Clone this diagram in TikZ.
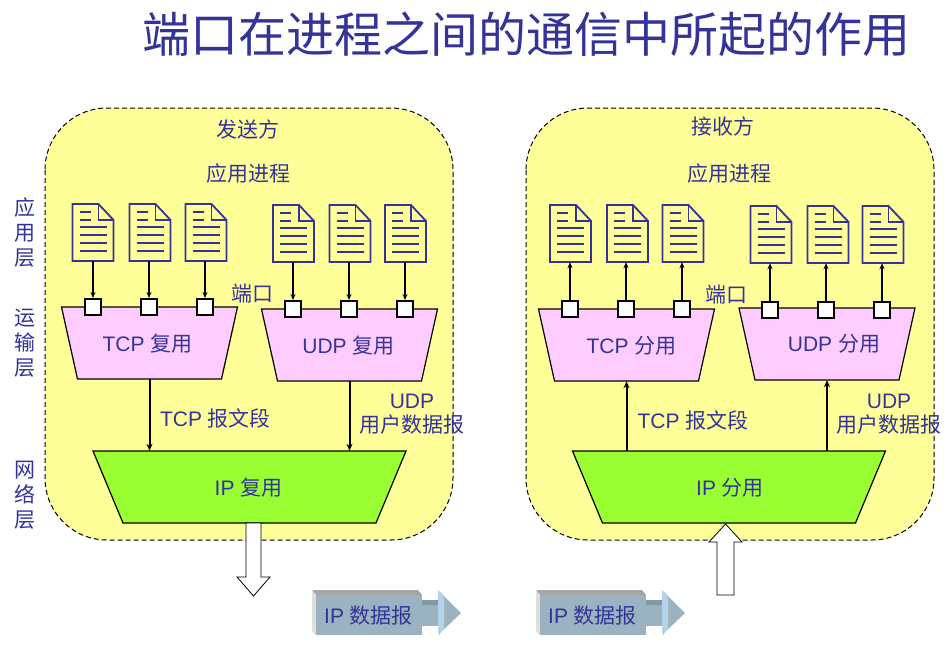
\documentclass[tikz,border=0pt]{standalone}
\usepackage{fontspec}
\setmainfont{Liberation Sans}
\newfontfamily\cjk{Noto Sans CJK SC}
\usetikzlibrary{arrows.meta}
\definecolor{ink}{HTML}{333399}
\definecolor{yel}{HTML}{FFFF99}
\definecolor{pnk}{HTML}{FFCCFF}
\definecolor{grn}{HTML}{99FF33}
\definecolor{pktf}{HTML}{9BB3C1}
\definecolor{pktd}{HTML}{7F98A6}
\definecolor{pktl}{HTML}{B5D3E6}
\tikzset{
  x=1pt,y=-1pt,
  lab/.style={text=ink,inner sep=0pt,align=center,font=\fontsize{21}{25}\selectfont},
  panel/.style={draw=black,dash pattern=on 5pt off 3pt,line width=1pt,fill=yel,rounded corners=62pt},
  trapline/.style={draw=black,line width=1.2pt,line join=miter},
  trapanchor/.style={inner sep=0pt,minimum height=72pt},
  portbox/.style={draw=black,line width=2pt,fill=white,minimum size=16pt,inner sep=0pt},
  docbox/.style={inner sep=0pt,minimum width=41pt,minimum height=57pt},
  docline/.style={draw=ink,line width=1.8pt},
  conn/.style={draw=black,line width=1.1pt,-{Stealth[length=6pt,width=5pt]}},
  main/.style={draw=black,line width=2pt,-{Stealth[length=7pt,width=6pt]}},
  blockarrow/.style={draw=black,line width=0.8pt,fill=white},
}
% name, centre x, centre y, half width, inset, fill
\newcommand{\trapnode}[6]{%
  \draw[trapline,fill=#6] (#2-#4,#3-36) -- (#2+#4,#3-36) -- (#2+#4-#5,#3+36) -- (#2-#4+#5,#3+36) -- cycle;
  \node[trapanchor,minimum width=2*#4*1pt] (#1) at (#2,#3) {};}
\newcommand{\docnode}[3]{%
  \node[docbox] (#1) at (#2+20.5,#3+28.5) {};
  \begin{scope}[shift={(#2,#3)}]
    \draw[docline,line join=miter,fill=yel] (0,0) -- (26,0) -- (41,16) -- (41,57) -- (0,57) -- cycle;
    \draw[docline] (26,0) -- (26,16) -- (41,16);
    \draw[docline,line width=1.5pt] (7,8) -- (18,8) (7,16) -- (18,16) (7,23) -- (34,23) (7,31) -- (34,31) (7,39) -- (34,39) (7,47) -- (34,47);
  \end{scope}}
\newcommand{\packet}[2]{%
  \begin{scope}[shift={(#1,0)}]
    \fill[pktf] (422,600) rectangle (440,626);
    \fill[pktd] (422,600) -- (438,600) -- (441,605) -- (422,605) -- cycle;
    \fill[pktf] (438,590) -- (461,613) -- (438,635) -- cycle;
    \fill[pktl] (438,590) -- (444,596) -- (444,629) -- (438,635) -- cycle;
    \fill[gray!70] (312,590) -- (418,590) -- (422,595) -- (316,595) -- cycle;
    \fill[gray!25] (312,590) -- (316,595) -- (316,635) -- (312,631) -- cycle;
    \node[draw=none,fill=pktf,inner sep=0pt,minimum width=106pt,minimum height=40pt] (#2) at (369,615) {};
    \node[lab] at (368.5,616) {IP {\cjk 数据报}};
  \end{scope}}
\begin{document}
\begin{tikzpicture}
\useasboundingbox (0,0) rectangle (951,664);
\fill[white] (0,0) rectangle (951,664);
\node[lab,font=\fontsize{48}{50}\selectfont\cjk] (title) at (526.5,34) {端口在进程之间的通信中所起的作用};

\draw[panel] (45,108) rectangle (453,540);
\draw[panel] (526,108) rectangle (934,540);

\node[lab,font=\fontsize{21}{25}\selectfont\cjk] (s1) at (25,232.5) {应\\用\\层};
\node[lab,font=\fontsize{21}{25}\selectfont\cjk] (s2) at (25,343.5) {运\\输\\层};
\node[lab,font=\fontsize{21}{25}\selectfont\cjk] (s3) at (25,495.5) {网\\络\\层};

\node[lab] (h1) at (248,129) {\cjk 发送方};
\node[lab] (h2) at (723,126) {\cjk 接收方};
\node[lab] (a1) at (248,174) {\cjk 应用进程};
\node[lab] (a2) at (729,174) {\cjk 应用进程};

% left docs
\docnode{la}{72.5}{204}\docnode{lb}{129.5}{204}\docnode{lc}{185.5}{204}
\docnode{ld}{273}{205}\docnode{le}{329.5}{205}\docnode{lf}{385}{205}
% right docs
\docnode{ra}{550}{205}\docnode{rb}{607}{205}\docnode{rc}{662.5}{205}
\docnode{rd}{750.5}{206}\docnode{re}{807.5}{206}\docnode{rf}{862.5}{206}

% trapezia
\trapnode{ltcp}{149.5}{343}{88}{16}{pnk}
\trapnode{ludp}{349.5}{345}{88}{16}{pnk}
\trapnode{rtcp}{626.5}{345}{88}{16}{pnk}
\trapnode{rudp}{827}{344}{88}{16}{pnk}
\trapnode{lip}{249.5}{487}{156.5}{30}{grn}
\trapnode{rip}{729}{487}{156.5}{30}{grn}
\node[lab] (tl1) at (147.5,344) {TCP {\cjk 复用}};
\node[lab] (tl2) at (348.5,346) {UDP {\cjk 复用}};
\node[lab] (tr1) at (631.5,346) {TCP {\cjk 分用}};
\node[lab] (tr2) at (834,344) {UDP {\cjk 分用}};
\node[lab] (tl3) at (248.5,488) {IP {\cjk 复用}};
\node[lab] (tr3) at (730,488) {IP {\cjk 分用}};

% ports
\foreach \n/\x/\y in {pa/93/307,pb/149/307,pc/205/307,pd/293/309,pe/349/309,pf/405/309,
                      qa/570/309,qb/626/309,qc/682/309,qd/770/310,qe/826/310,qf/882/310}
  \node[portbox] (\n) at (\x,\y) {};

% doc connectors
\foreach \d/\p in {la/pa,lb/pb,lc/pc,ld/pd,le/pe,lf/pf}
  \draw[conn] (\p.north |- \d.south) -- (\p.north);
\foreach \d/\p in {ra/qa,rb/qb,rc/qc,rd/qd,re/qe,rf/qf}
  \draw[conn] (\p.north) -- (\p.north |- \d.south);

% main connectors
\draw[main] (ltcp.south) -- (ltcp.south |- lip.north);
\draw[main] (ludp.south) -- (ludp.south |- lip.north);
\draw[main] (rtcp.south |- rip.north) -- (rtcp.south);
\draw[main] (rudp.south |- rip.north) -- (rudp.south);

\node[lab] (l1) at (215.5,418) {TCP {\cjk 报文段}};
\node[lab] (l2) at (412,414.5) {UDP\\[-1pt]{\cjk 用户数据报}};
\node[lab] (l3) at (693,420) {TCP {\cjk 报文段}};
\node[lab] (l4) at (889,414.5) {UDP\\[-1pt]{\cjk 用户数据报}};
\node[lab] (p1) at (252,294) {\cjk 端口};
\node[lab] (p2) at (726,295) {\cjk 端口};

% block arrows
\draw[blockarrow] (246,523) -- (261,523) -- (261,577) -- (270,577) -- (253.5,596) -- (237,577) -- (246,577) -- cycle;
\draw[blockarrow] (717,595) -- (734,595) -- (734,542) -- (742,542) -- (725.5,524) -- (709,542) -- (717,542) -- cycle;

\packet{0}{pk1}
\packet{224}{pk2}
\end{tikzpicture}
\end{document}
